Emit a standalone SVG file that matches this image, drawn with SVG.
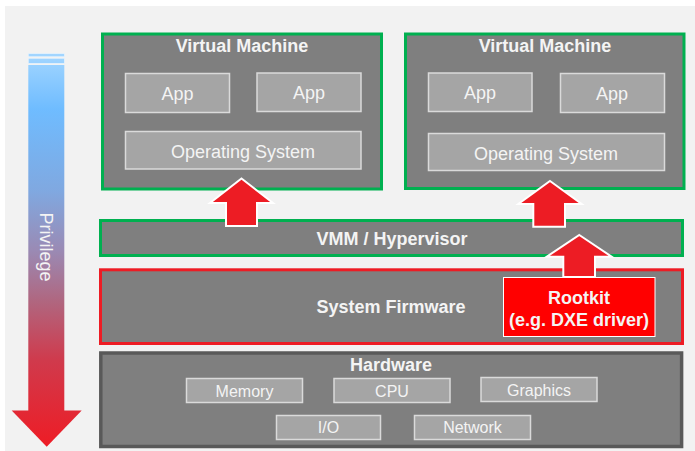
<svg xmlns="http://www.w3.org/2000/svg" width="695" height="451" viewBox="0 0 695 451">
  <defs>
    <linearGradient id="privGrad" gradientUnits="userSpaceOnUse" x1="0" y1="54" x2="0" y2="447">
      <stop offset="0" stop-color="#a3d6ff"/>
      <stop offset="0.14" stop-color="#6fbcff"/>
      <stop offset="0.35" stop-color="#80a8e0"/>
      <stop offset="0.5" stop-color="#9a8ab4"/>
      <stop offset="0.63" stop-color="#b0667f"/>
      <stop offset="0.78" stop-color="#d03a4c"/>
      <stop offset="1" stop-color="#ee1c25"/>
    </linearGradient>
  </defs>
  <style>
    .layer { fill: #7f7f7f; }
    .green { stroke: #00b050; stroke-width: 3; }
    .redb { stroke: #ed1c24; stroke-width: 3; }
    .hw { stroke: #595959; stroke-width: 3.5; }
    .inner { fill: #a5a5a5; stroke: #dadada; stroke-width: 1.5; }
    .title { font-family: "Liberation Sans", Arial, sans-serif; font-weight: bold; font-size: 18px; fill: #f4f4f4; text-anchor: middle; }
    .lbl { font-family: "Liberation Sans", Arial, sans-serif; font-size: 18px; fill: #f4f4f4; text-anchor: middle; }
    .small { font-family: "Liberation Sans", Arial, sans-serif; font-size: 16px; fill: #f4f4f4; text-anchor: middle; }
    .up { fill: #ed1c24; stroke: #ffffff; stroke-width: 2; stroke-linejoin: miter; }
  </style>

  <!-- page -->
  <rect x="0" y="0" width="695" height="451" fill="#ffffff"/>
  <rect x="5" y="6" width="690" height="445" fill="#f2f2f2"/>

  <!-- privilege scale -->
  <g id="privilege">
    <rect x="28.3" y="53.7" width="36" height="3" fill="url(#privGrad)" stroke="#e6f3ff" stroke-width="0.6"/>
    <rect x="28.3" y="58.3" width="36" height="5" fill="url(#privGrad)" stroke="#e6f3ff" stroke-width="0.6"/>
    <rect x="28.3" y="65" width="36" height="346" fill="url(#privGrad)"/>
    <polygon points="11.7,410.5 81.7,410.5 46.7,446.7" fill="url(#privGrad)"/>
    <text class="lbl" transform="translate(39.5,247) rotate(90)">Privilege</text>
  </g>

  <!-- virtual machine 1 -->
  <g id="vm1">
    <rect class="layer green" x="102.5" y="34" width="279" height="155"/>
    <text class="title" x="242" y="52">Virtual Machine</text>
    <rect class="inner" x="125.5" y="73.5" width="104" height="39"/>
    <text class="lbl" x="177.5" y="99.5">App</text>
    <rect class="inner" x="257" y="73" width="104" height="38.5"/>
    <text class="lbl" x="309" y="99">App</text>
    <rect class="inner" x="125.5" y="131.5" width="235.5" height="37.5"/>
    <text class="lbl" x="243" y="157.5">Operating System</text>
  </g>

  <!-- virtual machine 2 -->
  <g id="vm2">
    <rect class="layer green" x="405.5" y="34" width="278.5" height="154.5"/>
    <text class="title" x="545" y="52">Virtual Machine</text>
    <rect class="inner" x="428.5" y="73" width="103.5" height="38.5"/>
    <text class="lbl" x="480" y="99">App</text>
    <rect class="inner" x="560.5" y="73.5" width="104" height="39"/>
    <text class="lbl" x="612" y="99.5">App</text>
    <rect class="inner" x="428.5" y="133.5" width="236" height="37"/>
    <text class="lbl" x="546" y="159.5">Operating System</text>
  </g>

  <!-- hypervisor -->
  <g id="vmm">
    <rect class="layer green" x="100.5" y="220.5" width="582" height="35"/>
    <text class="title" x="392" y="245">VMM / Hypervisor</text>
  </g>

  <!-- system firmware -->
  <g id="firmware">
    <rect class="layer redb" x="100.5" y="269.8" width="582" height="73.7"/>
    <text class="title" x="391" y="313">System Firmware</text>
  </g>

  <!-- rootkit -->
  <g id="rootkit">
    <rect x="503.5" y="277.5" width="151.5" height="59" fill="#ff0000" stroke="#ffffff" stroke-width="1"/>
    <text class="title" x="579" y="303.5" fill="#ffffff">Rootkit</text>
    <text class="title" x="579" y="325.5" fill="#ffffff">(e.g. DXE driver)</text>
  </g>

  <!-- hardware -->
  <g id="hardware">
    <rect class="layer hw" x="100.8" y="353" width="580.8" height="93.5"/>
    <text class="title" x="391" y="371">Hardware</text>
    <rect class="inner" x="186.5" y="378.5" width="116" height="24"/>
    <text class="small" x="244.5" y="396.5">Memory</text>
    <rect class="inner" x="334" y="378.5" width="116" height="24"/>
    <text class="small" x="392" y="396.5">CPU</text>
    <rect class="inner" x="481" y="377.5" width="116" height="24"/>
    <text class="small" x="539" y="395.5">Graphics</text>
    <rect class="inner" x="276.5" y="415.5" width="104" height="24"/>
    <text class="small" x="328.5" y="433">I/O</text>
    <rect class="inner" x="414.5" y="415.5" width="116" height="24"/>
    <text class="small" x="472.5" y="433">Network</text>
  </g>

  <!-- connectors -->
  <g id="connectors">
    <polygon class="up" points="241.5,178.5 273,203 257,203 257,226 226,226 226,203 210,203"/>
    <polygon class="up" points="550,181 581.7,204 565,204 565,226.7 533.3,226.7 533.3,204 518.3,204"/>
    <polygon class="up" points="579.3,235 611.7,256.7 595,256.7 595,277 563.3,277 563.3,256.7 546.7,256.7"/>
  </g>
</svg>
